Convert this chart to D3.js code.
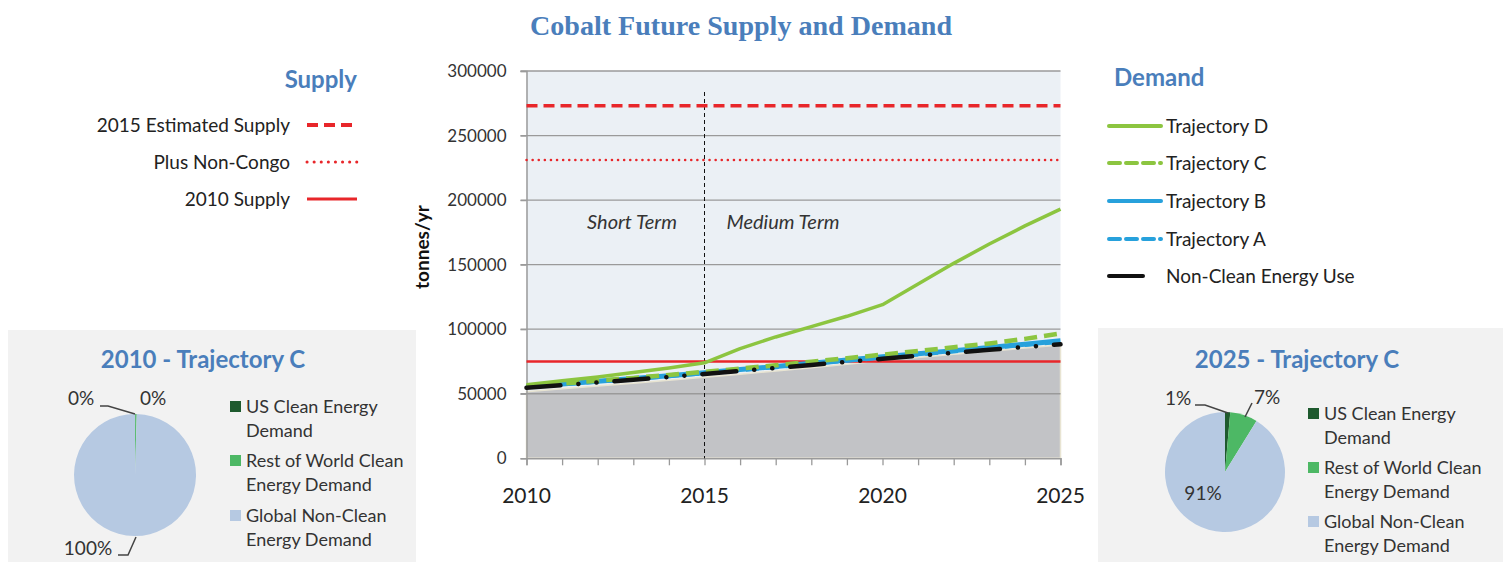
<!DOCTYPE html>
<html>
<head>
<meta charset="utf-8">
<script src="https://cdn.jsdelivr.net/npm/d3@7/dist/d3.min.js"></script>
<style>
  body { margin: 0; background: #fff; }
  text { font-family: Lato, "Liberation Sans", sans-serif; fill: #222; }
</style>
</head>
<body>
<script>
// ---- data ----
var years = [2010, 2011, 2012, 2013, 2014, 2015, 2016, 2017, 2018, 2019, 2020, 2021, 2022, 2023, 2024, 2025];

var trajD = [57000, 60000, 63000, 66500, 70000, 74000, 85000, 94000, 102000, 110000, 119000, 135000, 151000, 166000, 180000, 193000];
var trajC = [55800, 57900, 60100, 62300, 64600, 67000, 69500, 72100, 74800, 77500, 80300, 83100, 86000, 89000, 92500, 96800];
var trajB = [55500, 57500, 59600, 61800, 64000, 66300, 68700, 71100, 73600, 76100, 78600, 81000, 83400, 85900, 88400, 91000];
var trajA = [55300, 57300, 59300, 61400, 63600, 65900, 68200, 70600, 73000, 75500, 78000, 80400, 82800, 85300, 87800, 90200];
var nonClean = [54600, 56600, 58700, 60800, 63000, 65300, 67600, 69900, 72300, 74700, 77100, 79400, 81700, 84000, 86200, 88300];
var baseArea = [51500, 53800, 56000, 58200, 60400, 62700, 65100, 67600, 70100, 72800, 75500, 78000, 80500, 83000, 85400, 87700];

var supplyNames = ["2015 Estimated Supply", "Plus Non-Congo", "2010 Supply"];
var supplyValues = [273000, 231000, 75000];

var demandNames = ["Trajectory D", "Trajectory C", "Trajectory B", "Trajectory A", "Non-Clean Energy Use"];

var yTicks = [0, 50000, 100000, 150000, 200000, 250000, 300000];
var xLabels = [2010, 2015, 2020, 2025];

var pieNames = [["US Clean Energy", "Demand"], ["Rest of World Clean", "Energy Demand"], ["Global Non-Clean", "Energy Demand"]];
var pie2010 = [0.05, 0.4, 99.55];
var pie2025 = [1.4, 7.4, 91.2];

// ---- styles ----
var red = "#e8262a", green = "#8cc540", blue = "#27a1dc", titleBlue = "#4a7ebb";
var pieColors = ["#1e5a2e", "#4db865", "#b6c9e2"];

var W = 1506, H = 562;
var svg = d3.select("body").append("svg").attr("width", W).attr("height", H);

// title
svg.append("text").attr("x", 530).attr("y", 35)
  .attr("textLength", 422).attr("lengthAdjust", "spacingAndGlyphs")
  .style("font-family", "'Liberation Serif', 'DejaVu Serif', serif").style("font-weight", "bold")
  .style("font-size", "27px").style("fill", titleBlue)
  .text("Cobalt Future Supply and Demand");

// ---- main chart ----
var xScale = d3.scaleLinear().domain([2010, 2025]).range([526.5, 1060.5]);
var yScale = d3.scaleLinear().domain([0, 300000]).range([458.3, 71]);

// plot background
svg.append("rect").attr("x", xScale(2010)).attr("y", yScale(300000))
  .attr("width", xScale(2025) - xScale(2010)).attr("height", yScale(0) - yScale(300000))
  .style("fill", "#ebf0f5");

// grey base area
var area = d3.area().x(function(d, i) { return xScale(years[i]); })
  .y0(yScale(0)).y1(function(d) { return yScale(d); });
svg.append("path").datum(baseArea).attr("d", area)
  .style("fill", "#c2c3c6").style("stroke", "#e8e4d2").style("stroke-width", 1.5);

// gridlines
svg.append("g").selectAll("line").data(yTicks.slice(1)).enter().append("line")
  .attr("x1", xScale(2010) - 6).attr("x2", xScale(2025))
  .attr("y1", function(d) { return yScale(d); }).attr("y2", function(d) { return yScale(d); })
  .style("stroke", "#9a9a9a").style("stroke-width", 1.3);

// y axis
var yAxis = d3.axisLeft(yScale).tickValues(yTicks).tickSize(6).tickPadding(14).tickFormat(d3.format("d"));
var gy = svg.append("g").attr("transform", "translate(" + xScale(2010) + ",0)").call(yAxis);
gy.select(".domain").style("stroke", "#9a9a9a").style("stroke-width", 1.5);
gy.selectAll(".tick line").style("stroke", "#9a9a9a").style("stroke-width", 1.3);
gy.selectAll("text").style("font-size", "17px").style("fill", "#333").style("font-family", "Lato, sans-serif");

// x axis: minor tick every year, labels every 5
var xAxis = d3.axisBottom(xScale).tickValues(years).tickSize(7).tickFormat("");
var gx = svg.append("g").attr("transform", "translate(0," + yScale(0) + ")").call(xAxis);
gx.select(".domain").style("stroke", "#9a9a9a").style("stroke-width", 1.5);
gx.selectAll(".tick line").style("stroke", "#9a9a9a").style("stroke-width", 1.3);
svg.append("g").selectAll("text").data(xLabels).enter().append("text")
  .attr("x", function(d) { return xScale(d); }).attr("y", 503).attr("text-anchor", "middle")
  .style("font-size", "21px").style("fill", "#222").text(function(d) { return d; });

// y title
svg.append("text").attr("transform", "translate(429,247) rotate(-90)").attr("text-anchor", "middle")
  .style("font-size", "19px").style("font-weight", "bold").style("fill", "#111").text("tonnes/yr");

// period divider
svg.append("line").attr("x1", xScale(2015)).attr("x2", xScale(2015)).attr("y1", 92).attr("y2", yScale(0))
  .style("stroke", "#111").style("stroke-width", 1).style("stroke-dasharray", "4,3");
svg.append("text").attr("x", 632).attr("y", 229).attr("text-anchor", "middle")
  .style("font-style", "italic").style("font-size", "20px").style("fill", "#333").text("Short Term");
svg.append("text").attr("x", 783).attr("y", 229).attr("text-anchor", "middle")
  .style("font-style", "italic").style("font-size", "20px").style("fill", "#333").text("Medium Term");

// supply lines
var supplyStyles = [
  { w: 3.5, dash: "11,6", cap: "butt" },
  { w: 2.5, dash: "0.1,6", cap: "round" },
  { w: 2.5, dash: null, cap: "butt" }
];
svg.append("g").selectAll("line").data(supplyValues).enter().append("line")
  .attr("x1", xScale(2010)).attr("x2", xScale(2025))
  .attr("y1", function(d) { return yScale(d); }).attr("y2", function(d) { return yScale(d); })
  .style("stroke", red)
  .style("stroke-width", function(d, i) { return supplyStyles[i].w; })
  .style("stroke-dasharray", function(d, i) { return supplyStyles[i].dash; })
  .style("stroke-linecap", function(d, i) { return supplyStyles[i].cap; });

// demand lines
var line = d3.line().x(function(d, i) { return xScale(years[i]); }).y(function(d) { return yScale(d); });
var demandSeries = [trajD, trajC, trajB, trajA, nonClean];
var demandStyles = [
  { c: green, w: 3.5, dash: null, cap: "butt" },
  { c: green, w: 4.5, dash: "13,7", cap: "butt" },
  { c: blue, w: 5, dash: null, cap: "butt" },
  { c: blue, w: 4, dash: "13,7", cap: "butt" },
  { c: "#111", w: 4.5, dash: "34,18,0.1,18,0.1,18", cap: "round" }
];
// draw order: blue A under B, then C, D and black on top
[3, 2, 1, 0, 4].forEach(function(i) {
  svg.append("path").datum(demandSeries[i]).attr("d", line)
    .style("fill", "none").style("stroke", demandStyles[i].c)
    .style("stroke-width", demandStyles[i].w)
    .style("stroke-dasharray", demandStyles[i].dash)
    .style("stroke-linecap", demandStyles[i].cap)
    .style("stroke-linejoin", "round");
});

// ---- supply legend ----
svg.append("text").attr("x", 357).attr("y", 88).attr("text-anchor", "end")
  .style("font-size", "24px").style("font-weight", "bold").style("fill", titleBlue).text("Supply");
var supplyRowY = [125, 162, 199];
supplyNames.forEach(function(name, i) {
  svg.append("text").attr("x", 290).attr("y", supplyRowY[i] + 7).attr("text-anchor", "end")
    .style("font-size", "19px").text(name);
  svg.append("line").attr("x1", 307).attr("x2", 357).attr("y1", supplyRowY[i]).attr("y2", supplyRowY[i])
    .style("stroke", red).style("stroke-width", supplyStyles[i].w + 0.5)
    .style("stroke-dasharray", i == 0 ? "11,6" : i == 1 ? "0.1,7" : null)
    .style("stroke-linecap", supplyStyles[i].cap);
});

// ---- demand legend ----
svg.append("text").attr("x", 1114).attr("y", 86)
  .style("font-size", "24px").style("font-weight", "bold").style("fill", titleBlue).text("Demand");
var demandRowY = [126, 163, 201, 239, 276];
demandNames.forEach(function(name, i) {
  var s = demandStyles[i];
  svg.append("line").attr("x1", 1109).attr("x2", i == 4 ? 1143 : 1161)
    .attr("y1", demandRowY[i]).attr("y2", demandRowY[i])
    .style("stroke", s.c).style("stroke-width", 4)
    .style("stroke-dasharray", i == 1 || i == 3 ? "11,6" : null)
    .style("stroke-linecap", "round");
  svg.append("text").attr("x", 1166).attr("y", demandRowY[i] + 7)
    .style("font-size", "19px").text(name);
});

// ---- pie panels ----
function drawPie(opts) {
  var g = svg.append("g");
  g.append("rect").attr("x", opts.px).attr("y", opts.py).attr("width", opts.pw).attr("height", H - opts.py)
    .style("fill", "#f2f2f2");
  g.append("text").attr("x", opts.tx).attr("y", 368).attr("text-anchor", "middle")
    .style("font-size", "24px").style("font-weight", "bold").style("fill", titleBlue).text(opts.title);

  var pie = d3.pie().sort(null)(opts.values);
  var arc = d3.arc().innerRadius(0).outerRadius(opts.r);
  g.append("g").attr("transform", "translate(" + opts.cx + "," + opts.cy + ")")
    .selectAll("path").data(pie).enter().append("path")
    .attr("d", arc).style("fill", function(d, i) { return pieColors[i]; });

  // labels with leader lines
  opts.labels.forEach(function(lb, i) {
    g.append("text").attr("x", lb.x).attr("y", lb.y).attr("text-anchor", "middle")
      .style("font-size", "19px").style("fill", "#333")
      .text(d3.format(".0f")(opts.values[i]) + "%");
    if (lb.leader) {
      g.append("polyline").attr("points", lb.leader.map(function(p) { return p.join(","); }).join(" "))
        .style("fill", "none").style("stroke", "#444").style("stroke-width", 1.5);
    }
  });

  // legend
  pieNames.forEach(function(lines, i) {
    var y0 = opts.ly[i];
    g.append("rect").attr("x", opts.lx).attr("y", y0 - 6).attr("width", 11).attr("height", 11)
      .style("fill", pieColors[i]);
    lines.forEach(function(t, j) {
      g.append("text").attr("x", opts.lx + 16).attr("y", y0 + 6 + j * 24)
        .style("font-size", "18px").style("fill", "#333").text(t);
    });
  });
}

drawPie({
  px: 8, py: 330, pw: 408, tx: 203, title: "2010 - Trajectory C",
  cx: 135, cy: 475, r: 61, values: pie2010,
  labels: [
    { x: 81, y: 405, leader: [[100, 406], [108, 406], [135, 414]] },
    { x: 153, y: 405 },
    { x: 88, y: 555, leader: [[118, 555], [128, 555], [136, 537]] }
  ],
  lx: 230, ly: [407, 461, 516]
});

drawPie({
  px: 1098, py: 328, pw: 405, tx: 1297, title: "2025 - Trajectory C",
  cx: 1225, cy: 472, r: 60, values: pie2025,
  labels: [
    { x: 1178, y: 405, leader: [[1195, 405], [1205, 405], [1228, 413]] },
    { x: 1267, y: 404, leader: [[1252, 403], [1245, 417]] },
    { x: 1203, y: 500 }
  ],
  lx: 1308, ly: [414, 468, 522]
});
</script>
</body>
</html>
